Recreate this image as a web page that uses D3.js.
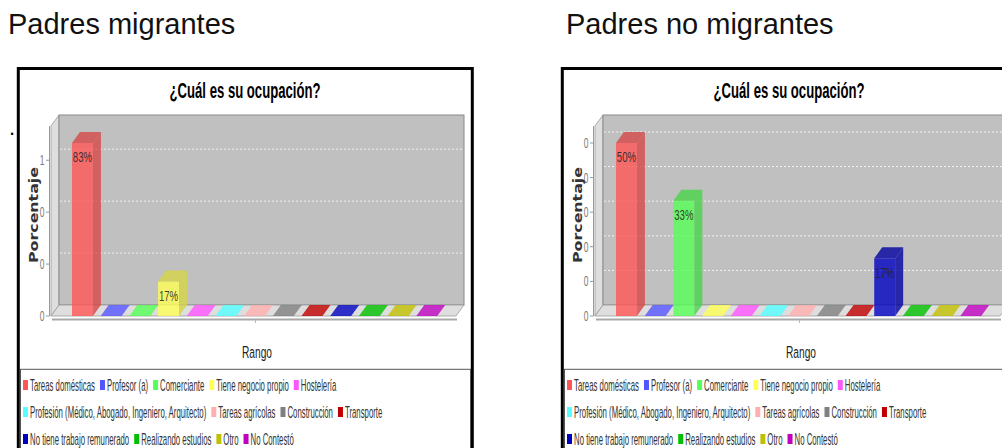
<!DOCTYPE html>
<html><head><meta charset="utf-8">
<script src="https://cdn.jsdelivr.net/npm/d3@7"></script>
<style>body{margin:0;background:#fff;} svg{display:block;}</style>
</head><body>
<svg id="c" width="1002" height="448"></svg>
<script>
// ---------- data ----------
const panelTitles = ["Padres migrantes", "Padres no migrantes"];
const chartTitle = "¿Cuál es su ocupación?";
const xAxisTitle = "Rango";
const yAxisTitle = "Porcentaje";
const categories = ["Tareas domésticas","Profesor (a)","Comerciante","Tiene negocio propio","Hostelería",
  "Profesión (Médico, Abogado, Ingeniero, Arquitecto)","Tareas agrícolas","Construcción","Transporte",
  "No tiene trabajo remunerado","Realizando estudios","Otro","No Contestó"];
const seriesColors = ["#ff5555","#5555ff","#55ff55","#ffff55","#ff55ff","#55ffff","#ffafaf","#808080",
  "#c00000","#0000c0","#00c000","#c0c000","#c000c0"];
const migrantValues    = [0.8333, 0, 0, 0.1667, 0, 0, 0, 0, 0, 0, 0, 0, 0];
const nonMigrantValues = [0.5, 0, 0.3333, 0, 0, 0, 0, 0, 0, 0.1667, 0, 0, 0];
const migrantTicks = [0, 0.25, 0.5, 0.75];
const migrantTickLabels = ["0", "0", "0", "1"];
const nonMigrantTicks = [0, 0.1, 0.2, 0.3, 0.4, 0.5];
const nonMigrantTickLabels = ["0", "0", "0", "0", "0", "0"];

// ---------- drawing ----------
const svg = d3.select("#c");
const SANS = "'Liberation Sans', Arial, sans-serif";

// condensed text: placed with translate + horizontal scale
function ctext(parent, x, y, sx, str, opts) {
  const t = parent.append("text").attr("x", 0).attr("y", 0)
    .attr("transform", `translate(${x},${y}) scale(${sx},1)`)
    .attr("font-family", opts.family || SANS).attr("font-size", opts.size)
    .attr("font-weight", opts.weight || "normal").attr("fill", opts.fill || "#000")
    .attr("text-anchor", opts.anchor || "start").text(str);
  if (opts.opacity) t.attr("fill-opacity", opts.opacity);
  return t;
}
function sxFor(parent, str, size, weight, family, target) {
  const t = parent.append("text").attr("font-family", family || SANS).attr("font-size", size)
    .attr("font-weight", weight || "normal").text(str);
  const w = t.node().getComputedTextLength();
  t.remove();
  return target / w;
}

// headers
svg.append("text").attr("x", 8).attr("y", 34).attr("font-family", SANS).attr("font-size", 29)
  .attr("fill", "#111").text(panelTitles[0]);
svg.append("text").attr("x", 566).attr("y", 34).attr("font-family", SANS).attr("font-size", 29)
  .attr("fill", "#111").text(panelTitles[1]);
svg.append("text").attr("x", 9).attr("y", 135).attr("font-family", SANS).attr("font-size", 22)
  .attr("fill", "#000").text(".");

const LEG_SX = sxFor(svg, categories[0], 16, "normal", SANS, 65);

function drawPanel(offsetX, values, ticks, tickLabels) {
  const g = svg.append("g").attr("transform", `translate(${offsetX},0)`);
  const X0 = 51, X1 = 456, YT = 126, YB = 316, DX = 8, DY = 11;

  // frame
  g.append("rect").attr("x", 18.3).attr("y", 68.5).attr("width", 454).attr("height", 420)
    .attr("fill", "#fff").attr("stroke", "#000").attr("stroke-width", 3);

  // title
  const tsx = sxFor(g, chartTitle, 21.5, "bold", SANS, 151);
  ctext(g, 245, 97.5, tsx, chartTitle, { size: 21.5, weight: "bold", anchor: "middle", fill: "#000" });

  const maxV = d3.max(values);
  const y = d3.scaleLinear().domain([0, maxV * 1.098]).range([YB, YT]);
  const x = d3.scaleBand().domain(categories).range([64.25, 445]).paddingInner(0.27).paddingOuter(0.27);

  // walls
  g.append("polygon").attr("points", [[X0, YT], [X0 + DX, YT - DY], [X0 + DX, YB - DY], [X0, YB]].join(" "))
    .attr("fill", "#dedede").attr("stroke", "#9a9a9a").attr("stroke-width", 0.8);
  g.append("rect").attr("x", X0 + DX).attr("y", YT - DY).attr("width", X1 - X0).attr("height", YB - YT)
    .attr("fill", "#c0c0c0").attr("stroke", "#8a8a8a").attr("stroke-width", 1);
  g.append("polygon").attr("points", [[X0, YB], [X1, YB], [X1 + DX, YB - DY], [X0 + DX, YB - DY]].join(" "))
    .attr("fill", "#dedede").attr("stroke", "#9a9a9a").attr("stroke-width", 0.8);

  // gridlines on back wall
  g.selectAll(".grid").data(ticks.filter(t => t > 0)).enter().append("line")
    .attr("x1", X0 + DX + 1).attr("x2", X1 + DX - 1)
    .attr("y1", d => y(d) - DY).attr("y2", d => y(d) - DY)
    .attr("stroke", "#f2f2f2").attr("stroke-width", 1).attr("stroke-dasharray", "2,2");

  // bars
  const data = categories.map((c, i) => ({ c, v: values[i], col: seriesColors[i] }));
  const bw = x.bandwidth();
  data.forEach(d => {
    const bx = x(d.c), ty = y(d.v);
    const dark = d3.color(d.col).darker(0.5).formatHex();
    if (d.v > 0) {
      g.append("rect").attr("x", bx).attr("y", ty).attr("width", bw).attr("height", YB - ty)
        .attr("fill", d.col).attr("fill-opacity", 0.8);
      g.append("polygon").attr("points", [[bx + bw, ty], [bx + bw + DX, ty - DY], [bx + bw + DX, YB - DY], [bx + bw, YB]].join(" "))
        .attr("fill", dark).attr("fill-opacity", 0.8);
    }
    g.append("polygon").attr("points", [[bx, ty], [bx + DX, ty - DY], [bx + bw + DX, ty - DY], [bx + bw, ty]].join(" "))
      .attr("fill", d.v > 0 ? dark : d.col).attr("fill-opacity", 0.8);
    if (d.v > 0) {
      ctext(g, bx + bw / 2, ty + 19.5, 0.64, Math.round(d.v * 100) + "%",
        { size: 15, anchor: "middle", fill: "#222", opacity: 0.85 });
    }
  });

  // y axis
  g.append("line").attr("x1", 49.5).attr("x2", 49.5).attr("y1", YT).attr("y2", YB)
    .attr("stroke", "#999").attr("stroke-width", 1);
  ticks.forEach((t, i) => {
    g.append("line").attr("x1", 46).attr("x2", 49.5).attr("y1", y(t)).attr("y2", y(t))
      .attr("stroke", "#999").attr("stroke-width", 1);
    ctext(g, 44.5, y(t) + 5, 0.6, tickLabels[i], { size: 14, anchor: "end", fill: "#777" });
  });

  // x axis line
  g.append("line").attr("x1", X0 + 1).attr("x2", X1 + 1).attr("y1", 319.5).attr("y2", 319.5)
    .attr("stroke", "#a8a8a8").attr("stroke-width", 2);
  g.append("line").attr("x1", (X0 + X1) / 2 + 2).attr("x2", (X0 + X1) / 2 + 2).attr("y1", 320).attr("y2", 323)
    .attr("stroke", "#bbb").attr("stroke-width", 1);

  // axis titles
  const rsx = sxFor(g, xAxisTitle, 17, "normal", SANS, 30);
  ctext(g, 257, 357.5, rsx, xAxisTitle, { size: 17, anchor: "middle", fill: "#222" });
  const psx = sxFor(g, yAxisTitle, 13, "bold", "'DejaVu Sans', sans-serif", 96);
  g.append("text").attr("transform", `translate(37.5,215) rotate(-90) scale(${psx},1)`).attr("text-anchor", "middle")
    .attr("font-family", "'DejaVu Sans', sans-serif").attr("font-weight", "bold").attr("font-size", 13)
    .attr("fill", "#333").text(yAxisTitle);

  // legend
  g.append("rect").attr("x", 20.5).attr("y", 369.3).attr("width", 450).attr("height", 120)
    .attr("fill", "#fff").attr("stroke", "#555").attr("stroke-width", 1);
  let lx = 23, ly = 385;
  const maxX = 466;
  categories.forEach((c, i) => {
    const t = ctext(g, 0, 0, LEG_SX, c, { size: 16, fill: "#333" });
    const w = t.node().getComputedTextLength() * LEG_SX;
    const itemW = 7 + w;
    if (lx + itemW > maxX) { lx = 23; ly += 27; }
    t.attr("transform", `translate(${lx + 7},${ly + 6}) scale(${LEG_SX},1)`);
    g.append("rect").attr("x", lx).attr("y", ly - 5).attr("width", 5).attr("height", 10).attr("fill", seriesColors[i]);
    lx += itemW + 5;
  });
}

drawPanel(0, migrantValues, migrantTicks, migrantTickLabels);
drawPanel(544, nonMigrantValues, nonMigrantTicks, nonMigrantTickLabels);
</script>
</body></html>
